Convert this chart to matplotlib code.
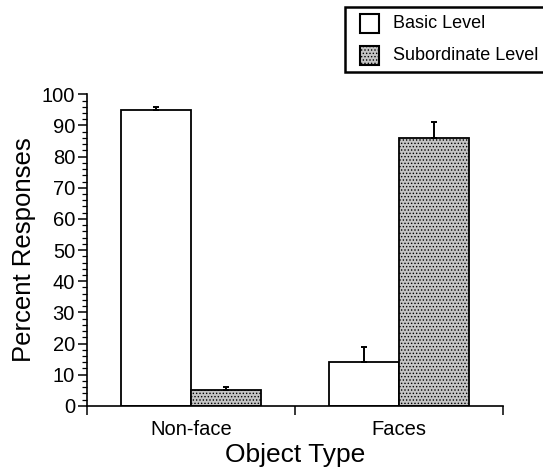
import matplotlib
matplotlib.use("Agg")
import matplotlib.pyplot as plt
from matplotlib.patches import Rectangle
from matplotlib.ticker import MultipleLocator, FixedLocator
import numpy as np

plt.rcParams['font.family'] = ['Liberation Sans', 'DejaVu Sans']
plt.rcParams['hatch.linewidth'] = 0.6

categories = ['Non-face', 'Faces']
series = ['Basic Level', 'Subordinate Level']
basic = [95, 14]
basic_err = [1, 5]
subordinate = [5, 86]
subordinate_err = [1, 5]

fig = plt.figure(figsize=(5.43, 4.67), dpi=100)
ax = fig.add_axes([0.160, 0.131, 0.766, 0.667])

x = np.arange(len(categories))
w = 0.3365
err_kw = dict(ecolor='black', elinewidth=1.4, capsize=2.2, capthick=1.4)

ax.bar(x - w / 2, basic, w, color='white', edgecolor='black', linewidth=1.3,
       yerr=[np.zeros(2), basic_err], error_kw=err_kw, label=series[0])
ax.bar(x + w / 2, subordinate, w, color='#c4c4c4', edgecolor='black', linewidth=1.3,
       hatch='.....', yerr=[np.zeros(2), subordinate_err], error_kw=err_kw,
       label=series[1])

ax.set_xlim(-0.5, 1.5)
ax.set_ylim(0, 100)
ax.spines['top'].set_visible(False)
ax.spines['right'].set_visible(False)
ax.spines['left'].set_linewidth(1.2)
ax.spines['bottom'].set_linewidth(1.2)

# y axis: major every 10, minor every 2
ax.yaxis.set_major_locator(MultipleLocator(10))
ax.yaxis.set_minor_locator(MultipleLocator(2))
ax.tick_params(axis='y', which='major', length=6.5, width=1.1, labelsize=14.5, pad=2)
ax.tick_params(axis='y', which='minor', length=3.5, width=0.9)

# x axis: ticks at group boundaries, labels at group centres
ax.xaxis.set_major_locator(FixedLocator([-0.5, 0.5, 1.5]))
ax.xaxis.set_minor_locator(FixedLocator(x))
ax.set_xticklabels([], minor=False)
ax.set_xticklabels(categories, minor=True)
ax.tick_params(axis='x', which='major', length=6.5, width=1.1)
ax.tick_params(axis='x', which='minor', length=0, labelsize=14.5, pad=10)

ax.set_xlabel('Object Type', fontsize=19, labelpad=3)
ax.set_ylabel('Percent Responses', fontsize=18.5, labelpad=4)

# legend box at top right (runs off the right edge of the figure)
box = Rectangle((345 / 543, 1 - 72 / 467), 0.6, 65 / 467, transform=fig.transFigure,
                facecolor='white', edgecolor='black', linewidth=1.8, clip_on=True)
fig.add_artist(box)
handles = [
    (14, 'white', None, series[0]),
    (46, '#c4c4c4', '.....', series[1]),
]
for top, fc, hatch, label in handles:
    fig.add_artist(Rectangle((360 / 543, 1 - (top + 19) / 467), 19 / 543, 19 / 467,
                             transform=fig.transFigure, facecolor=fc, hatch=hatch,
                             edgecolor='black', linewidth=1.5))
    fig.text(393 / 543, 1 - (top + 9.5) / 467, label, fontsize=13,
             va='center', ha='left')

fig.savefig('out.png', dpi=100)
